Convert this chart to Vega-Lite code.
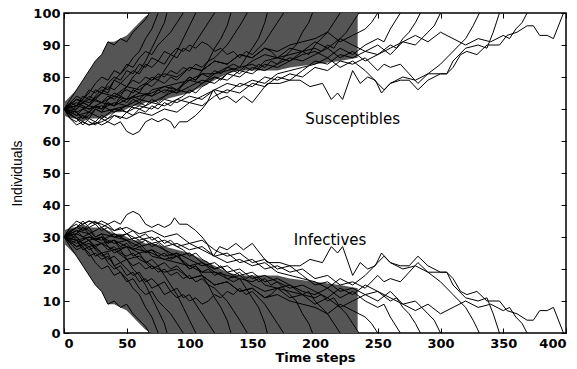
{
"$schema": "https://vega.github.io/schema/vega-lite/v6.json",
"width": 502, "height": 320,
"autosize": "none",
"padding": {"left": 64, "top": 13, "right": 11, "bottom": 36},
"background": "white",
"config": {
  "view": {"stroke": "black", "strokeWidth": 1.5},
  "axis": {"grid": false, "domain": false, "tickColor": "black", "tickSize": -5, "labelPadding": 9,
    "labelFont": "DejaVu Sans", "labelFontWeight": "bold", "labelFontSize": 13, "labelColor": "black", "titleColor": "black"}
},
"datasets": {
"band": [
{"t":0,"Ilo":28,"Ihi":32,"Slo":68,"Shi":72},
{"t":5,"Ilo":26,"Ihi":33,"Slo":67,"Shi":74},
{"t":10,"Ilo":24,"Ihi":33,"Slo":67,"Shi":76},
{"t":15,"Ilo":21,"Ihi":34,"Slo":66,"Shi":79},
{"t":20,"Ilo":18,"Ihi":33,"Slo":67,"Shi":82},
{"t":25,"Ilo":15,"Ihi":33,"Slo":67,"Shi":85},
{"t":30,"Ilo":13,"Ihi":33,"Slo":67,"Shi":87},
{"t":35,"Ilo":9,"Ihi":32,"Slo":68,"Shi":91},
{"t":40,"Ilo":9,"Ihi":31,"Slo":69,"Shi":91},
{"t":45,"Ilo":8,"Ihi":31,"Slo":69,"Shi":92},
{"t":50,"Ilo":7,"Ihi":30,"Slo":70,"Shi":93},
{"t":55,"Ilo":5,"Ihi":29,"Slo":71,"Shi":95},
{"t":60,"Ilo":3,"Ihi":29,"Slo":71,"Shi":97},
{"t":65,"Ilo":1,"Ihi":28,"Slo":72,"Shi":99},
{"t":70,"Ilo":0,"Ihi":28,"Slo":72,"Shi":100},
{"t":80,"Ilo":0,"Ihi":27,"Slo":73,"Shi":100},
{"t":90,"Ilo":0,"Ihi":26,"Slo":74,"Shi":100},
{"t":100,"Ilo":0,"Ihi":25,"Slo":75,"Shi":100},
{"t":110,"Ilo":0,"Ihi":23,"Slo":77,"Shi":100},
{"t":120,"Ilo":0,"Ihi":21,"Slo":79,"Shi":100},
{"t":130,"Ilo":0,"Ihi":19,"Slo":81,"Shi":100},
{"t":140,"Ilo":0,"Ihi":18,"Slo":82,"Shi":100},
{"t":160,"Ilo":0,"Ihi":18,"Slo":82,"Shi":100},
{"t":170,"Ilo":0,"Ihi":18,"Slo":82,"Shi":100},
{"t":180,"Ilo":0,"Ihi":17,"Slo":83,"Shi":100},
{"t":200,"Ilo":0,"Ihi":16,"Slo":84,"Shi":100},
{"t":220,"Ilo":0,"Ihi":15,"Slo":85,"Shi":100},
{"t":234,"Ilo":0,"Ihi":14,"Slo":86,"Shi":100}
],
"labels": [
{"t":230,"v":67,"label":"Susceptibles"},
{"t":212,"v":29,"label":"Infectives"}
],
"runs": [
{"r":1,"t":0,"I":30,"S":70},{"r":1,"t":5,"I":27,"S":73},{"r":1,"t":10,"I":24,"S":76},{"r":1,"t":15,"I":21,"S":79},{"r":1,"t":20,"I":18,"S":82},{"r":1,"t":25,"I":15,"S":85},{"r":1,"t":30,"I":13,"S":87},{"r":1,"t":35,"I":9,"S":91},{"r":1,"t":40,"I":10,"S":90},{"r":1,"t":45,"I":8,"S":92},{"r":1,"t":50,"I":9,"S":91},{"r":1,"t":55,"I":6,"S":94},{"r":1,"t":60,"I":4,"S":96},{"r":1,"t":65,"I":2,"S":98},{"r":1,"t":68,"I":0,"S":100},
{"r":2,"t":0,"I":30,"S":70},{"r":2,"t":5,"I":32,"S":68},{"r":2,"t":10,"I":30,"S":70},{"r":2,"t":15,"I":28,"S":72},{"r":2,"t":20,"I":29,"S":71},{"r":2,"t":25,"I":26,"S":74},{"r":2,"t":30,"I":24,"S":76},{"r":2,"t":35,"I":25,"S":75},{"r":2,"t":40,"I":21,"S":79},{"r":2,"t":45,"I":19,"S":81},{"r":2,"t":50,"I":17,"S":83},{"r":2,"t":55,"I":14,"S":86},{"r":2,"t":60,"I":12,"S":88},{"r":2,"t":65,"I":8,"S":92},{"r":2,"t":70,"I":5,"S":95},{"r":2,"t":75,"I":0,"S":100},
{"r":3,"t":0,"I":30,"S":70},{"r":3,"t":5,"I":29,"S":71},{"r":3,"t":10,"I":31,"S":69},{"r":3,"t":15,"I":33,"S":67},{"r":3,"t":20,"I":31,"S":69},{"r":3,"t":25,"I":29,"S":71},{"r":3,"t":30,"I":30,"S":70},{"r":3,"t":35,"I":27,"S":73},{"r":3,"t":40,"I":25,"S":75},{"r":3,"t":45,"I":26,"S":74},{"r":3,"t":50,"I":23,"S":77},{"r":3,"t":55,"I":20,"S":80},{"r":3,"t":60,"I":18,"S":82},{"r":3,"t":65,"I":15,"S":85},{"r":3,"t":70,"I":11,"S":89},{"r":3,"t":75,"I":7,"S":93},{"r":3,"t":80,"I":3,"S":97},{"r":3,"t":82,"I":0,"S":100},
{"r":4,"t":0,"I":30,"S":70},{"r":4,"t":5,"I":31,"S":69},{"r":4,"t":10,"I":29,"S":71},{"r":4,"t":15,"I":27,"S":73},{"r":4,"t":20,"I":25,"S":75},{"r":4,"t":25,"I":22,"S":78},{"r":4,"t":30,"I":20,"S":80},{"r":4,"t":35,"I":21,"S":79},{"r":4,"t":40,"I":18,"S":82},{"r":4,"t":45,"I":19,"S":81},{"r":4,"t":50,"I":16,"S":84},{"r":4,"t":55,"I":17,"S":83},{"r":4,"t":60,"I":14,"S":86},{"r":4,"t":65,"I":12,"S":88},{"r":4,"t":70,"I":13,"S":87},{"r":4,"t":75,"I":10,"S":90},{"r":4,"t":80,"I":8,"S":92},{"r":4,"t":85,"I":6,"S":94},{"r":4,"t":90,"I":3,"S":97},{"r":4,"t":95,"I":0,"S":100},
{"r":5,"t":0,"I":30,"S":70},{"r":5,"t":5,"I":33,"S":67},{"r":5,"t":10,"I":34,"S":66},{"r":5,"t":15,"I":32,"S":68},{"r":5,"t":20,"I":33,"S":67},{"r":5,"t":25,"I":30,"S":70},{"r":5,"t":30,"I":31,"S":69},{"r":5,"t":35,"I":28,"S":72},{"r":5,"t":40,"I":29,"S":71},{"r":5,"t":45,"I":26,"S":74},{"r":5,"t":50,"I":27,"S":73},{"r":5,"t":55,"I":24,"S":76},{"r":5,"t":60,"I":25,"S":75},{"r":5,"t":65,"I":22,"S":78},{"r":5,"t":70,"I":20,"S":80},{"r":5,"t":75,"I":21,"S":79},{"r":5,"t":80,"I":18,"S":82},{"r":5,"t":85,"I":15,"S":85},{"r":5,"t":90,"I":12,"S":88},{"r":5,"t":95,"I":8,"S":92},{"r":5,"t":100,"I":4,"S":96},{"r":5,"t":105,"I":0,"S":100},
{"r":6,"t":0,"I":30,"S":70},{"r":6,"t":10,"I":26,"S":74},{"r":6,"t":15,"I":27,"S":73},{"r":6,"t":20,"I":24,"S":76},{"r":6,"t":25,"I":25,"S":75},{"r":6,"t":30,"I":23,"S":77},{"r":6,"t":35,"I":24,"S":76},{"r":6,"t":40,"I":21,"S":79},{"r":6,"t":45,"I":22,"S":78},{"r":6,"t":50,"I":20,"S":80},{"r":6,"t":55,"I":18,"S":82},{"r":6,"t":60,"I":19,"S":81},{"r":6,"t":65,"I":16,"S":84},{"r":6,"t":70,"I":17,"S":83},{"r":6,"t":75,"I":15,"S":85},{"r":6,"t":80,"I":16,"S":84},{"r":6,"t":85,"I":13,"S":87},{"r":6,"t":90,"I":14,"S":86},{"r":6,"t":95,"I":11,"S":89},{"r":6,"t":100,"I":12,"S":88},{"r":6,"t":105,"I":9,"S":91},{"r":6,"t":110,"I":6,"S":94},{"r":6,"t":115,"I":3,"S":97},{"r":6,"t":120,"I":0,"S":100},
{"r":7,"t":0,"I":30,"S":70},{"r":7,"t":5,"I":32,"S":68},{"r":7,"t":10,"I":33,"S":67},{"r":7,"t":15,"I":35,"S":65},{"r":7,"t":20,"I":33,"S":67},{"r":7,"t":25,"I":34,"S":66},{"r":7,"t":30,"I":32,"S":68},{"r":7,"t":35,"I":33,"S":67},{"r":7,"t":40,"I":31,"S":69},{"r":7,"t":45,"I":30,"S":70},{"r":7,"t":50,"I":31,"S":69},{"r":7,"t":55,"I":29,"S":71},{"r":7,"t":60,"I":28,"S":72},{"r":7,"t":65,"I":29,"S":71},{"r":7,"t":70,"I":27,"S":73},{"r":7,"t":75,"I":28,"S":72},{"r":7,"t":80,"I":26,"S":74},{"r":7,"t":85,"I":24,"S":76},{"r":7,"t":90,"I":25,"S":75},{"r":7,"t":95,"I":22,"S":78},{"r":7,"t":100,"I":20,"S":80},{"r":7,"t":105,"I":21,"S":79},{"r":7,"t":110,"I":18,"S":82},{"r":7,"t":115,"I":15,"S":85},{"r":7,"t":120,"I":11,"S":89},{"r":7,"t":125,"I":8,"S":92},{"r":7,"t":130,"I":4,"S":96},{"r":7,"t":133,"I":0,"S":100},
{"r":8,"t":0,"I":30,"S":70},{"r":8,"t":10,"I":27,"S":73},{"r":8,"t":15,"I":28,"S":72},{"r":8,"t":20,"I":26,"S":74},{"r":8,"t":25,"I":27,"S":73},{"r":8,"t":30,"I":25,"S":75},{"r":8,"t":35,"I":23,"S":77},{"r":8,"t":40,"I":24,"S":76},{"r":8,"t":45,"I":22,"S":78},{"r":8,"t":50,"I":23,"S":77},{"r":8,"t":55,"I":21,"S":79},{"r":8,"t":60,"I":22,"S":78},{"r":8,"t":65,"I":20,"S":80},{"r":8,"t":70,"I":21,"S":79},{"r":8,"t":75,"I":19,"S":81},{"r":8,"t":80,"I":20,"S":80},{"r":8,"t":85,"I":18,"S":82},{"r":8,"t":90,"I":19,"S":81},{"r":8,"t":95,"I":17,"S":83},{"r":8,"t":100,"I":18,"S":82},{"r":8,"t":105,"I":16,"S":84},{"r":8,"t":110,"I":17,"S":83},{"r":8,"t":115,"I":15,"S":85},{"r":8,"t":120,"I":14,"S":86},{"r":8,"t":125,"I":12,"S":88},{"r":8,"t":130,"I":10,"S":90},{"r":8,"t":135,"I":7,"S":93},{"r":8,"t":140,"I":4,"S":96},{"r":8,"t":146,"I":0,"S":100},
{"r":9,"t":0,"I":30,"S":70},{"r":9,"t":10,"I":32,"S":68},{"r":9,"t":15,"I":30,"S":70},{"r":9,"t":20,"I":31,"S":69},{"r":9,"t":25,"I":29,"S":71},{"r":9,"t":30,"I":30,"S":70},{"r":9,"t":35,"I":28,"S":72},{"r":9,"t":40,"I":29,"S":71},{"r":9,"t":45,"I":27,"S":73},{"r":9,"t":50,"I":28,"S":72},{"r":9,"t":55,"I":26,"S":74},{"r":9,"t":60,"I":27,"S":73},{"r":9,"t":65,"I":25,"S":75},{"r":9,"t":70,"I":26,"S":74},{"r":9,"t":75,"I":24,"S":76},{"r":9,"t":80,"I":25,"S":75},{"r":9,"t":85,"I":23,"S":77},{"r":9,"t":90,"I":24,"S":76},{"r":9,"t":95,"I":22,"S":78},{"r":9,"t":100,"I":20,"S":80},{"r":9,"t":105,"I":21,"S":79},{"r":9,"t":110,"I":19,"S":81},{"r":9,"t":115,"I":20,"S":80},{"r":9,"t":120,"I":18,"S":82},{"r":9,"t":125,"I":19,"S":81},{"r":9,"t":130,"I":17,"S":83},{"r":9,"t":135,"I":16,"S":84},{"r":9,"t":140,"I":17,"S":83},{"r":9,"t":145,"I":14,"S":86},{"r":9,"t":150,"I":11,"S":89},{"r":9,"t":155,"I":8,"S":92},{"r":9,"t":160,"I":3,"S":97},{"r":9,"t":162,"I":0,"S":100},
{"r":10,"t":0,"I":30,"S":70},{"r":10,"t":5,"I":28,"S":72},{"r":10,"t":10,"I":29,"S":71},{"r":10,"t":15,"I":26,"S":74},{"r":10,"t":20,"I":27,"S":73},{"r":10,"t":25,"I":24,"S":76},{"r":10,"t":30,"I":25,"S":75},{"r":10,"t":35,"I":22,"S":78},{"r":10,"t":40,"I":20,"S":80},{"r":10,"t":45,"I":21,"S":79},{"r":10,"t":50,"I":18,"S":82},{"r":10,"t":55,"I":19,"S":81},{"r":10,"t":60,"I":16,"S":84},{"r":10,"t":65,"I":17,"S":83},{"r":10,"t":70,"I":14,"S":86},{"r":10,"t":75,"I":15,"S":85},{"r":10,"t":80,"I":12,"S":88},{"r":10,"t":85,"I":13,"S":87},{"r":10,"t":90,"I":11,"S":89},{"r":10,"t":95,"I":12,"S":88},{"r":10,"t":100,"I":10,"S":90},{"r":10,"t":105,"I":11,"S":89},{"r":10,"t":110,"I":9,"S":91},{"r":10,"t":115,"I":10,"S":90},{"r":10,"t":120,"I":12,"S":88},{"r":10,"t":125,"I":11,"S":89},{"r":10,"t":130,"I":13,"S":87},{"r":10,"t":135,"I":12,"S":88},{"r":10,"t":140,"I":14,"S":86},{"r":10,"t":145,"I":12,"S":88},{"r":10,"t":150,"I":13,"S":87},{"r":10,"t":155,"I":11,"S":89},{"r":10,"t":160,"I":9,"S":91},{"r":10,"t":165,"I":6,"S":94},{"r":10,"t":170,"I":3,"S":97},{"r":10,"t":175,"I":0,"S":100},
{"r":11,"t":0,"I":30,"S":70},{"r":11,"t":10,"I":33,"S":67},{"r":11,"t":15,"I":32,"S":68},{"r":11,"t":20,"I":34,"S":66},{"r":11,"t":25,"I":35,"S":65},{"r":11,"t":30,"I":33,"S":67},{"r":11,"t":35,"I":34,"S":66},{"r":11,"t":40,"I":32,"S":68},{"r":11,"t":45,"I":33,"S":67},{"r":11,"t":50,"I":31,"S":69},{"r":11,"t":55,"I":32,"S":68},{"r":11,"t":60,"I":30,"S":70},{"r":11,"t":65,"I":31,"S":69},{"r":11,"t":70,"I":29,"S":71},{"r":11,"t":75,"I":30,"S":70},{"r":11,"t":80,"I":28,"S":72},{"r":11,"t":85,"I":29,"S":71},{"r":11,"t":90,"I":27,"S":73},{"r":11,"t":95,"I":26,"S":74},{"r":11,"t":100,"I":24,"S":76},{"r":11,"t":105,"I":25,"S":75},{"r":11,"t":110,"I":23,"S":77},{"r":11,"t":115,"I":22,"S":78},{"r":11,"t":120,"I":20,"S":80},{"r":11,"t":125,"I":21,"S":79},{"r":11,"t":130,"I":19,"S":81},{"r":11,"t":135,"I":18,"S":82},{"r":11,"t":140,"I":19,"S":81},{"r":11,"t":145,"I":17,"S":83},{"r":11,"t":150,"I":18,"S":82},{"r":11,"t":155,"I":16,"S":84},{"r":11,"t":160,"I":17,"S":83},{"r":11,"t":165,"I":15,"S":85},{"r":11,"t":170,"I":16,"S":84},{"r":11,"t":175,"I":14,"S":86},{"r":11,"t":180,"I":12,"S":88},{"r":11,"t":185,"I":10,"S":90},{"r":11,"t":190,"I":6,"S":94},{"r":11,"t":195,"I":3,"S":97},{"r":11,"t":198,"I":0,"S":100},
{"r":12,"t":0,"I":30,"S":70},{"r":12,"t":10,"I":30,"S":70},{"r":12,"t":15,"I":28,"S":72},{"r":12,"t":20,"I":29,"S":71},{"r":12,"t":25,"I":27,"S":73},{"r":12,"t":30,"I":28,"S":72},{"r":12,"t":35,"I":26,"S":74},{"r":12,"t":40,"I":27,"S":73},{"r":12,"t":45,"I":25,"S":75},{"r":12,"t":50,"I":24,"S":76},{"r":12,"t":55,"I":25,"S":75},{"r":12,"t":60,"I":23,"S":77},{"r":12,"t":65,"I":22,"S":78},{"r":12,"t":70,"I":23,"S":77},{"r":12,"t":75,"I":21,"S":79},{"r":12,"t":80,"I":22,"S":78},{"r":12,"t":85,"I":20,"S":80},{"r":12,"t":90,"I":21,"S":79},{"r":12,"t":95,"I":19,"S":81},{"r":12,"t":100,"I":17,"S":83},{"r":12,"t":110,"I":18,"S":82},{"r":12,"t":120,"I":15,"S":85},{"r":12,"t":130,"I":16,"S":84},{"r":12,"t":140,"I":13,"S":87},{"r":12,"t":150,"I":14,"S":86},{"r":12,"t":160,"I":11,"S":89},{"r":12,"t":165,"I":12,"S":88},{"r":12,"t":170,"I":14,"S":86},{"r":12,"t":180,"I":15,"S":85},{"r":12,"t":190,"I":12,"S":88},{"r":12,"t":195,"I":13,"S":87},{"r":12,"t":200,"I":10,"S":90},{"r":12,"t":205,"I":8,"S":92},{"r":12,"t":210,"I":6,"S":94},{"r":12,"t":215,"I":3,"S":97},{"r":12,"t":220,"I":0,"S":100},
{"r":13,"t":0,"I":30,"S":70},{"r":13,"t":10,"I":31,"S":69},{"r":13,"t":15,"I":33,"S":67},{"r":13,"t":20,"I":32,"S":68},{"r":13,"t":25,"I":30,"S":70},{"r":13,"t":30,"I":31,"S":69},{"r":13,"t":40,"I":30,"S":70},{"r":13,"t":50,"I":29,"S":71},{"r":13,"t":55,"I":27,"S":73},{"r":13,"t":60,"I":28,"S":72},{"r":13,"t":70,"I":24,"S":76},{"r":13,"t":80,"I":23,"S":77},{"r":13,"t":90,"I":22,"S":78},{"r":13,"t":100,"I":21,"S":79},{"r":13,"t":110,"I":19,"S":81},{"r":13,"t":120,"I":19,"S":81},{"r":13,"t":130,"I":18,"S":82},{"r":13,"t":140,"I":17,"S":83},{"r":13,"t":150,"I":16,"S":84},{"r":13,"t":155,"I":17,"S":83},{"r":13,"t":160,"I":15,"S":85},{"r":13,"t":170,"I":14,"S":86},{"r":13,"t":180,"I":13,"S":87},{"r":13,"t":190,"I":12,"S":88},{"r":13,"t":200,"I":11,"S":89},{"r":13,"t":205,"I":12,"S":88},{"r":13,"t":210,"I":10,"S":90},{"r":13,"t":215,"I":11,"S":89},{"r":13,"t":220,"I":8,"S":92},{"r":13,"t":225,"I":6,"S":94},{"r":13,"t":230,"I":3,"S":97},{"r":13,"t":235,"I":0,"S":100},
{"r":14,"t":0,"I":30,"S":70},{"r":14,"t":10,"I":31,"S":69},{"r":14,"t":20,"I":29,"S":71},{"r":14,"t":30,"I":30,"S":70},{"r":14,"t":40,"I":28,"S":72},{"r":14,"t":50,"I":29,"S":71},{"r":14,"t":60,"I":27,"S":73},{"r":14,"t":70,"I":28,"S":72},{"r":14,"t":80,"I":26,"S":74},{"r":14,"t":90,"I":24,"S":76},{"r":14,"t":100,"I":25,"S":75},{"r":14,"t":110,"I":22,"S":78},{"r":14,"t":120,"I":20,"S":80},{"r":14,"t":130,"I":21,"S":79},{"r":14,"t":140,"I":18,"S":82},{"r":14,"t":150,"I":19,"S":81},{"r":14,"t":160,"I":16,"S":84},{"r":14,"t":170,"I":17,"S":83},{"r":14,"t":180,"I":15,"S":85},{"r":14,"t":190,"I":13,"S":87},{"r":14,"t":200,"I":12,"S":88},{"r":14,"t":210,"I":14,"S":86},{"r":14,"t":220,"I":11,"S":89},{"r":14,"t":230,"I":13,"S":87},{"r":14,"t":240,"I":10,"S":90},{"r":14,"t":250,"I":8,"S":92},{"r":14,"t":255,"I":9,"S":91},{"r":14,"t":260,"I":5,"S":95},{"r":14,"t":268,"I":0,"S":100},
{"r":15,"t":0,"I":30,"S":70},{"r":15,"t":10,"I":33,"S":67},{"r":15,"t":20,"I":35,"S":65},{"r":15,"t":30,"I":34,"S":66},{"r":15,"t":40,"I":32,"S":68},{"r":15,"t":50,"I":33,"S":67},{"r":15,"t":60,"I":31,"S":69},{"r":15,"t":70,"I":32,"S":68},{"r":15,"t":80,"I":30,"S":70},{"r":15,"t":90,"I":31,"S":69},{"r":15,"t":100,"I":28,"S":72},{"r":15,"t":110,"I":29,"S":71},{"r":15,"t":120,"I":26,"S":74},{"r":15,"t":130,"I":24,"S":76},{"r":15,"t":140,"I":25,"S":75},{"r":15,"t":150,"I":22,"S":78},{"r":15,"t":160,"I":23,"S":77},{"r":15,"t":170,"I":20,"S":80},{"r":15,"t":180,"I":21,"S":79},{"r":15,"t":190,"I":18,"S":82},{"r":15,"t":200,"I":15,"S":85},{"r":15,"t":210,"I":16,"S":84},{"r":15,"t":220,"I":13,"S":87},{"r":15,"t":230,"I":14,"S":86},{"r":15,"t":240,"I":12,"S":88},{"r":15,"t":250,"I":13,"S":87},{"r":15,"t":260,"I":10,"S":90},{"r":15,"t":265,"I":11,"S":89},{"r":15,"t":270,"I":8,"S":92},{"r":15,"t":275,"I":6,"S":94},{"r":15,"t":280,"I":3,"S":97},{"r":15,"t":284,"I":0,"S":100},
{"r":16,"t":0,"I":30,"S":70},{"r":16,"t":10,"I":28,"S":72},{"r":16,"t":20,"I":30,"S":70},{"r":16,"t":30,"I":29,"S":71},{"r":16,"t":40,"I":31,"S":69},{"r":16,"t":50,"I":29,"S":71},{"r":16,"t":60,"I":30,"S":70},{"r":16,"t":70,"I":28,"S":72},{"r":16,"t":80,"I":29,"S":71},{"r":16,"t":90,"I":27,"S":73},{"r":16,"t":100,"I":28,"S":72},{"r":16,"t":110,"I":26,"S":74},{"r":16,"t":120,"I":24,"S":76},{"r":16,"t":130,"I":25,"S":75},{"r":16,"t":140,"I":22,"S":78},{"r":16,"t":150,"I":23,"S":77},{"r":16,"t":160,"I":20,"S":80},{"r":16,"t":170,"I":21,"S":79},{"r":16,"t":180,"I":19,"S":81},{"r":16,"t":190,"I":20,"S":80},{"r":16,"t":200,"I":17,"S":83},{"r":16,"t":210,"I":18,"S":82},{"r":16,"t":220,"I":15,"S":85},{"r":16,"t":230,"I":16,"S":84},{"r":16,"t":240,"I":14,"S":86},{"r":16,"t":250,"I":18,"S":82},{"r":16,"t":255,"I":16,"S":84},{"r":16,"t":260,"I":17,"S":83},{"r":16,"t":268,"I":16,"S":84},{"r":16,"t":275,"I":19,"S":81},{"r":16,"t":282,"I":22,"S":78},{"r":16,"t":290,"I":19,"S":81},{"r":16,"t":300,"I":16,"S":84},{"r":16,"t":310,"I":12,"S":88},{"r":16,"t":320,"I":8,"S":92},{"r":16,"t":326,"I":4,"S":96},{"r":16,"t":331,"I":0,"S":100},
{"r":17,"t":0,"I":30,"S":70},{"r":17,"t":10,"I":29,"S":71},{"r":17,"t":20,"I":27,"S":73},{"r":17,"t":30,"I":28,"S":72},{"r":17,"t":40,"I":26,"S":74},{"r":17,"t":50,"I":27,"S":73},{"r":17,"t":60,"I":25,"S":75},{"r":17,"t":70,"I":26,"S":74},{"r":17,"t":80,"I":24,"S":76},{"r":17,"t":90,"I":25,"S":75},{"r":17,"t":100,"I":23,"S":77},{"r":17,"t":110,"I":21,"S":79},{"r":17,"t":120,"I":22,"S":78},{"r":17,"t":130,"I":19,"S":81},{"r":17,"t":140,"I":20,"S":80},{"r":17,"t":150,"I":17,"S":83},{"r":17,"t":160,"I":18,"S":82},{"r":17,"t":170,"I":16,"S":84},{"r":17,"t":180,"I":14,"S":86},{"r":17,"t":190,"I":15,"S":85},{"r":17,"t":200,"I":13,"S":87},{"r":17,"t":210,"I":11,"S":89},{"r":17,"t":220,"I":14,"S":86},{"r":17,"t":230,"I":12,"S":88},{"r":17,"t":240,"I":15,"S":85},{"r":17,"t":250,"I":13,"S":87},{"r":17,"t":260,"I":11,"S":89},{"r":17,"t":270,"I":9,"S":91},{"r":17,"t":280,"I":10,"S":90},{"r":17,"t":290,"I":6,"S":94},{"r":17,"t":295,"I":4,"S":96},{"r":17,"t":300,"I":0,"S":100},
{"r":18,"t":0,"I":30,"S":70},{"r":18,"t":10,"I":32,"S":68},{"r":18,"t":20,"I":31,"S":69},{"r":18,"t":30,"I":33,"S":67},{"r":18,"t":40,"I":30,"S":70},{"r":18,"t":50,"I":31,"S":69},{"r":18,"t":60,"I":29,"S":71},{"r":18,"t":70,"I":30,"S":70},{"r":18,"t":80,"I":27,"S":73},{"r":18,"t":90,"I":28,"S":72},{"r":18,"t":100,"I":26,"S":74},{"r":18,"t":110,"I":27,"S":73},{"r":18,"t":120,"I":24,"S":76},{"r":18,"t":130,"I":22,"S":78},{"r":18,"t":140,"I":23,"S":77},{"r":18,"t":150,"I":21,"S":79},{"r":18,"t":160,"I":22,"S":78},{"r":18,"t":170,"I":19,"S":81},{"r":18,"t":180,"I":18,"S":82},{"r":18,"t":190,"I":17,"S":83},{"r":18,"t":200,"I":16,"S":84},{"r":18,"t":210,"I":14,"S":86},{"r":18,"t":220,"I":17,"S":83},{"r":18,"t":230,"I":15,"S":85},{"r":18,"t":240,"I":18,"S":82},{"r":18,"t":250,"I":22,"S":78},{"r":18,"t":255,"I":24,"S":76},{"r":18,"t":260,"I":22,"S":78},{"r":18,"t":270,"I":20,"S":80},{"r":18,"t":280,"I":21,"S":79},{"r":18,"t":290,"I":19,"S":81},{"r":18,"t":300,"I":19,"S":81},{"r":18,"t":305,"I":19,"S":81},{"r":18,"t":310,"I":15,"S":85},{"r":18,"t":320,"I":11,"S":89},{"r":18,"t":330,"I":10,"S":90},{"r":18,"t":337,"I":11,"S":89},{"r":18,"t":342,"I":6,"S":94},{"r":18,"t":347,"I":0,"S":100},
{"r":19,"t":0,"I":30,"S":70},{"r":19,"t":10,"I":29,"S":71},{"r":19,"t":20,"I":30,"S":70},{"r":19,"t":30,"I":28,"S":72},{"r":19,"t":40,"I":29,"S":71},{"r":19,"t":50,"I":27,"S":73},{"r":19,"t":60,"I":26,"S":74},{"r":19,"t":70,"I":25,"S":75},{"r":19,"t":80,"I":23,"S":77},{"r":19,"t":90,"I":24,"S":76},{"r":19,"t":100,"I":21,"S":79},{"r":19,"t":110,"I":22,"S":78},{"r":19,"t":120,"I":19,"S":81},{"r":19,"t":130,"I":17,"S":83},{"r":19,"t":140,"I":18,"S":82},{"r":19,"t":150,"I":15,"S":85},{"r":19,"t":160,"I":13,"S":87},{"r":19,"t":170,"I":14,"S":86},{"r":19,"t":180,"I":11,"S":89},{"r":19,"t":190,"I":12,"S":88},{"r":19,"t":200,"I":9,"S":91},{"r":19,"t":210,"I":11,"S":89},{"r":19,"t":220,"I":8,"S":92},{"r":19,"t":230,"I":10,"S":90},{"r":19,"t":240,"I":12,"S":88},{"r":19,"t":250,"I":10,"S":90},{"r":19,"t":260,"I":13,"S":87},{"r":19,"t":270,"I":9,"S":91},{"r":19,"t":280,"I":7,"S":93},{"r":19,"t":290,"I":9,"S":91},{"r":19,"t":300,"I":6,"S":94},{"r":19,"t":310,"I":8,"S":92},{"r":19,"t":320,"I":10,"S":90},{"r":19,"t":330,"I":8,"S":92},{"r":19,"t":340,"I":9,"S":91},{"r":19,"t":350,"I":7,"S":93},{"r":19,"t":355,"I":8,"S":92},{"r":19,"t":360,"I":5,"S":95},{"r":19,"t":365,"I":3,"S":97},{"r":19,"t":369,"I":0,"S":100},
{"r":20,"t":0,"I":30,"S":70},{"r":20,"t":5,"I":33,"S":67},{"r":20,"t":10,"I":35,"S":65},{"r":20,"t":15,"I":34,"S":66},{"r":20,"t":20,"I":35,"S":65},{"r":20,"t":25,"I":34,"S":66},{"r":20,"t":30,"I":35,"S":65},{"r":20,"t":35,"I":34,"S":66},{"r":20,"t":40,"I":35,"S":65},{"r":20,"t":45,"I":34,"S":66},{"r":20,"t":50,"I":37,"S":63},{"r":20,"t":55,"I":38,"S":62},{"r":20,"t":60,"I":37,"S":63},{"r":20,"t":65,"I":34,"S":66},{"r":20,"t":70,"I":33,"S":67},{"r":20,"t":75,"I":34,"S":66},{"r":20,"t":80,"I":33,"S":67},{"r":20,"t":85,"I":34,"S":66},{"r":20,"t":88,"I":36,"S":64},{"r":20,"t":92,"I":34,"S":66},{"r":20,"t":98,"I":34,"S":66},{"r":20,"t":105,"I":32,"S":68},{"r":20,"t":110,"I":30,"S":70},{"r":20,"t":114,"I":28,"S":72},{"r":20,"t":119,"I":24,"S":76},{"r":20,"t":124,"I":27,"S":73},{"r":20,"t":130,"I":26,"S":74},{"r":20,"t":137,"I":28,"S":72},{"r":20,"t":143,"I":26,"S":74},{"r":20,"t":150,"I":28,"S":72},{"r":20,"t":156,"I":25,"S":75},{"r":20,"t":162,"I":22,"S":78},{"r":20,"t":172,"I":22,"S":78},{"r":20,"t":180,"I":21,"S":79},{"r":20,"t":188,"I":21,"S":79},{"r":20,"t":196,"I":23,"S":77},{"r":20,"t":206,"I":22,"S":78},{"r":20,"t":213,"I":27,"S":73},{"r":20,"t":218,"I":25,"S":75},{"r":20,"t":222,"I":27,"S":73},{"r":20,"t":230,"I":18,"S":82},{"r":20,"t":236,"I":22,"S":78},{"r":20,"t":242,"I":20,"S":80},{"r":20,"t":248,"I":21,"S":79},{"r":20,"t":253,"I":25,"S":75},{"r":20,"t":260,"I":22,"S":78},{"r":20,"t":268,"I":21,"S":79},{"r":20,"t":275,"I":21,"S":79},{"r":20,"t":282,"I":24,"S":76},{"r":20,"t":290,"I":21,"S":79},{"r":20,"t":300,"I":19,"S":81},{"r":20,"t":305,"I":19,"S":81},{"r":20,"t":310,"I":17,"S":83},{"r":20,"t":316,"I":13,"S":87},{"r":20,"t":321,"I":12,"S":88},{"r":20,"t":329,"I":13,"S":87},{"r":20,"t":337,"I":10,"S":90},{"r":20,"t":347,"I":10,"S":90},{"r":20,"t":353,"I":7,"S":93},{"r":20,"t":361,"I":6,"S":94},{"r":20,"t":369,"I":4,"S":96},{"r":20,"t":374,"I":4,"S":96},{"r":20,"t":379,"I":7,"S":93},{"r":20,"t":385,"I":7,"S":93},{"r":20,"t":390,"I":8,"S":92},{"r":20,"t":398,"I":0,"S":100},
{"r":21,"t":0,"I":30,"S":70},{"r":21,"t":10,"I":27,"S":73},{"r":21,"t":20,"I":28,"S":72},{"r":21,"t":30,"I":25,"S":75},{"r":21,"t":40,"I":26,"S":74},{"r":21,"t":50,"I":23,"S":77},{"r":21,"t":60,"I":24,"S":76},{"r":21,"t":70,"I":21,"S":79},{"r":21,"t":80,"I":19,"S":81},{"r":21,"t":90,"I":20,"S":80},{"r":21,"t":100,"I":17,"S":83},{"r":21,"t":110,"I":18,"S":82},{"r":21,"t":120,"I":15,"S":85},{"r":21,"t":130,"I":16,"S":84},{"r":21,"t":140,"I":13,"S":87},{"r":21,"t":150,"I":14,"S":86},{"r":21,"t":160,"I":11,"S":89},{"r":21,"t":170,"I":12,"S":88},{"r":21,"t":180,"I":10,"S":90},{"r":21,"t":190,"I":9,"S":91},{"r":21,"t":200,"I":8,"S":92},{"r":21,"t":210,"I":6,"S":94},{"r":21,"t":220,"I":9,"S":91},{"r":21,"t":230,"I":7,"S":93},{"r":21,"t":240,"I":5,"S":95},{"r":21,"t":245,"I":3,"S":97},{"r":21,"t":250,"I":0,"S":100}
]
},
"layer": [
  {"data": {"name": "band"},
   "mark": {"type": "area", "color": "#555555"},
   "encoding": {
     "x": {"field": "t", "type": "quantitative", "scale": {"domain": [0, 400], "nice": false, "zero": false},
           "axis": {"orient": "bottom", "values": [0,50,100,150,200,250,300,350,400], "title": "Time steps",
                    "labelFont": "DejaVu Sans", "labelFontWeight": "bold", "labelFontSize": 13,
                    "titleFont": "DejaVu Sans", "titleFontWeight": "bold", "titleFontSize": 13, "titlePadding": 1}},
     "y": {"field": "Ilo", "type": "quantitative", "scale": {"domain": [0, 100], "nice": false},
           "axis": {"orient": "left", "values": [0,10,20,30,40,50,60,70,80,90,100], "title": "Individuals",
                    "labelFont": "DejaVu Sans", "labelFontWeight": "bold", "labelFontSize": 13,
                    "titleFont": "Liberation Sans", "titleFontWeight": "normal", "titleFontSize": 14, "titlePadding": 8}},
     "y2": {"field": "Ihi"}
   }},
  {"data": {"name": "band"},
   "mark": {"type": "area", "color": "#555555"},
   "encoding": {
     "x": {"field": "t", "type": "quantitative", "axis": null},
     "y": {"field": "Slo", "type": "quantitative", "axis": null},
     "y2": {"field": "Shi"}
   }},
  {"data": {"name": "runs"},
   "transform": [{"fold": ["I", "S"], "as": ["k", "v"]}],
   "mark": {"type": "line", "color": "black", "strokeWidth": 1},
   "encoding": {
     "x": {"field": "t", "type": "quantitative",
           "axis": {"orient": "top", "labels": false, "title": null, "values": [0,50,100,150,200,250,300,350,400]}},
     "y": {"field": "v", "type": "quantitative",
           "axis": {"orient": "right", "labels": false, "title": null, "values": [0,10,20,30,40,50,60,70,80,90,100]}},
     "detail": [{"field": "r", "type": "nominal"}, {"field": "k", "type": "nominal"}]
   }},
  {"data": {"name": "labels"},
   "mark": {"type": "text", "font": "DejaVu Sans", "fontSize": 15, "color": "black"},
   "encoding": {
     "x": {"field": "t", "type": "quantitative", "axis": null},
     "y": {"field": "v", "type": "quantitative", "axis": null},
     "text": {"field": "label"}
   }}
],
"resolve": {"axis": {"x": "independent", "y": "independent"}}
}
